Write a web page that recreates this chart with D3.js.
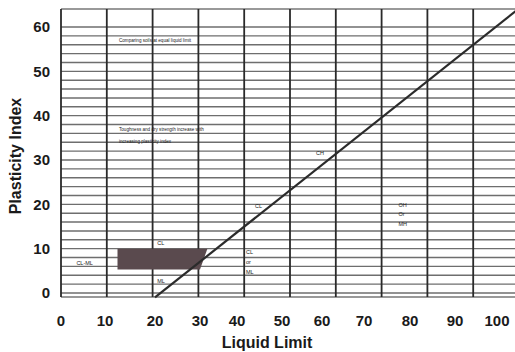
<!DOCTYPE html>
<html>
<head>
<meta charset="utf-8">
<script src="https://cdn.jsdelivr.net/npm/d3@7"></script>
<style>
   body { margin: 0; background: #fff; }
   .axis-label { font-family: "Liberation Sans", Arial, sans-serif; font-weight: bold; fill: #1a1a1a; }
   .tick-label { font-family: "Liberation Sans Narrow", "Liberation Sans", Arial, sans-serif; font-weight: bold; fill: #1a1a1a; }
   .zone { font-family: "Liberation Sans", Arial, sans-serif; fill: #222; }
</style>
</head>
<body>
<div id="chart"></div>
<script>
// axis ticks
const xTicks = [0, 10, 20, 30, 40, 50, 60, 70, 80, 90, 100];
const yTicks = [0, 10, 20, 30, 40, 50, 60];

// the scan is slightly warped: where each x label sits on the page
const xTickPos = [61, 105, 155, 200, 237, 282, 322, 364, 410, 455, 497];

// grid of the scanned form: horizontal rules every 2 PI, 10 vertical rules not aligned to the x labels
const gridRows = d3.range(0, 62, 2);
const gridCols = d3.range(0, 11);

// A-line, [liquid limit, plasticity index]
const aLine = [[20, -1], [105, 64]];

// shaded CL-ML zone, [LL, PI]
const clml = [[12.5, 10], [32, 10], [30, 5.3], [12.5, 5.3]];

// zone labels: [LL, PI, text, size]
const labels = [
   [12.8, 57, "Comparing soils at equal liquid limit", 4.6],
   [12.8, 36.8, "Toughness and dry strength increase with", 4.6],
   [12.8, 34.3, "increasing plasticity index", 4.6],
   [58.5, 31.5, "CH", 5.5],
   [44, 19.5, "CL", 5.5],
   [20.5, 11.3, "CL", 5.5],
   [20.5, 2.8, "ML", 5.5],
   [3.5, 6.8, "CL-ML", 5.5],
   [42, 9.2, "CL", 5.5],
   [42, 7, "or", 5.5],
   [42, 4.8, "ML", 5.5],
   [77.5, 19.9, "OH", 5.5],
   [77.5, 17.8, "Or", 5.5],
   [77.5, 15.6, "MH", 5.5]
];

let o = {
   width: 515,
   height: 352,
   plot: { left: 61, right: 519, top: 9, bottom: 297 }
};

let svg = d3.select("#chart").append("svg")
   .attr("width", o.width)
   .attr("height", o.height);

let x = d3.scaleLinear().domain(xTicks).range(xTickPos);
let y = d3.scaleLinear().domain([0, 60]).range([293, 27]);
let gx = d3.scaleLinear().domain([0, 10]).range([o.plot.left, o.plot.right]);

let plot = svg.append("g");

// horizontal rules
plot.selectAll(".hrule")
   .data(gridRows)
 .enter().append("line")
   .attr("class", "hrule")
   .attr("x1", o.plot.left).attr("x2", o.plot.right)
   .attr("y1", d => y(d)).attr("y2", d => y(d))
   .style("stroke", "#6e6e6e")
   .style("stroke-width", 1.4);

// top and bottom border
plot.selectAll(".border")
   .data([o.plot.top, o.plot.bottom])
 .enter().append("line")
   .attr("class", "border")
   .attr("x1", o.plot.left).attr("x2", o.plot.right)
   .attr("y1", d => d).attr("y2", d => d)
   .style("stroke", "#777")
   .style("stroke-width", 1.4);

// vertical rules
plot.selectAll(".vrule")
   .data(gridCols)
 .enter().append("line")
   .attr("class", "vrule")
   .attr("x1", d => gx(d)).attr("x2", d => gx(d))
   .attr("y1", o.plot.top).attr("y2", o.plot.bottom)
   .style("stroke", "#2a2a2a")
   .style("stroke-width", 1.8);

// CL-ML band
plot.append("path")
   .datum(clml)
   .attr("d", d3.line().x(d => x(d[0])).y(d => y(d[1])).curve(d3.curveLinearClosed))
   .style("fill", "#5a4a4e");

// A-line
plot.append("path")
   .datum(aLine)
   .attr("d", d3.line().x(d => x(d[0])).y(d => y(d[1])))
   .style("fill", "none")
   .style("stroke", "#2b2b2b")
   .style("stroke-width", 2.2);

// zone text
plot.selectAll(".zone")
   .data(labels)
 .enter().append("text")
   .attr("class", "zone")
   .attr("x", d => x(d[0]))
   .attr("y", d => y(d[1]))
   .attr("dy", ".35em")
   .style("font-size", d => d[3] + "px")
   .text(d => d[2]);

// tick labels
svg.selectAll(".xtick")
   .data(xTicks)
 .enter().append("text")
   .attr("class", "tick-label")
   .attr("x", d => x(d))
   .attr("y", 326)
   .attr("text-anchor", "middle")
   .style("font-size", "15px")
   .text(d => d);

svg.selectAll(".ytick")
   .data(yTicks)
 .enter().append("text")
   .attr("class", "tick-label")
   .attr("x", 50)
   .attr("y", d => y(d))
   .attr("dy", ".35em")
   .attr("text-anchor", "end")
   .style("font-size", "15px")
   .text(d => d);

// axis titles
svg.append("text")
   .attr("class", "axis-label")
   .attr("x", 267)
   .attr("y", 348)
   .attr("text-anchor", "middle")
   .style("font-size", "16px")
   .text("Liquid Limit");

svg.append("text")
   .attr("class", "axis-label")
   .attr("transform", "translate(21,156) rotate(-90)")
   .attr("text-anchor", "middle")
   .style("font-size", "16px")
   .text("Plasticity Index");
</script>
</body>
</html>
